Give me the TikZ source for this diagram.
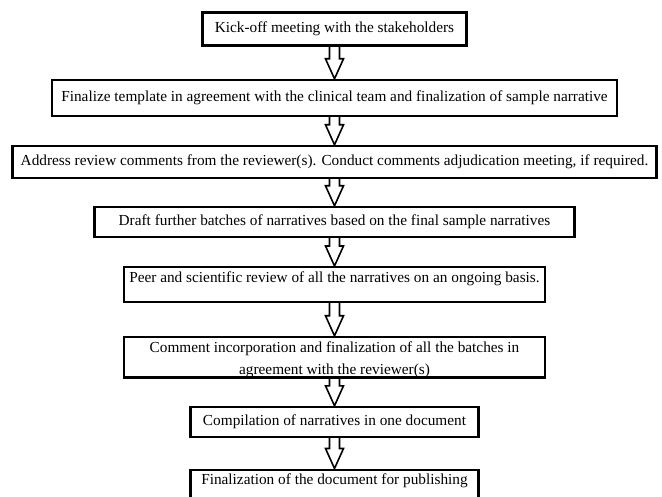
\documentclass[tikz,border=0pt]{standalone}
\usepackage{fontspec}
\setmainfont{Liberation Serif}
\usetikzlibrary{calc,backgrounds}

\tikzset{
  stepbox/.style={draw, line width=2.4pt, fill=white, inner sep=0pt, align=center,
    font=\fontsize{15.3}{22}\selectfont},
  flowarrow/.style={draw, line width=1.6pt, fill=white,
    to path={let \p1=(\tikztostart.south), \p2=(\tikztotarget.north) in
      (\x1-5pt,\y1+4pt) -- (\x1-5pt,\y2+20pt) -- (\x1-9pt,\y2+20pt) -- (\x1,\y2)
      -- (\x1+9pt,\y2+20pt) -- (\x1+5pt,\y2+20pt) -- (\x1+5pt,\y1+4pt) -- cycle}}
}

\begin{document}
\begin{tikzpicture}[x=1pt,y=-1pt]
\clip (0,0) rectangle (662,497);

\node[stepbox, minimum width=264, minimum height=33] (kickoff) at (334.5,29) {Kick-off meeting with the stakeholders};
\node[stepbox, minimum width=565, minimum height=36] (template) at (334.5,98) {Finalize template in agreement with the clinical team and finalization of sample narrative};
\node[stepbox, minimum width=644, minimum height=32] (review) at (334.5,162) {Address review comments from the reviewer(s). Conduct comments adjudication meeting, if required.};
\node[stepbox, minimum width=480, minimum height=30] (drafting) at (334.5,222) {Draft further batches of narratives based on the final sample narratives};
\node[stepbox, minimum width=421, inner ysep=4pt, text height=11pt, text depth=16pt, anchor=north] (peer) at (334.5,266) {Peer and scientific review of all the narratives on an ongoing basis.};
\node[stepbox, minimum width=421, minimum height=40.5] (incorporation) at (334.5,357.25) {\rule{0pt}{13pt}Comment incorporation and finalization of all the batches in\\\smash{agreement with the reviewer(s)}};
\node[stepbox, minimum width=288, minimum height=30] (compilation) at (334.5,422) {Compilation of narratives in one document};
\node[stepbox, minimum width=288, inner ysep=5pt, text height=10pt, text depth=25pt, anchor=north] (publishing) at (334.5,468.5) {Finalization of the document for publishing};

\begin{scope}[on background layer]
\draw[flowarrow] (kickoff) to (template);
\draw[flowarrow] (template) to (review);
\draw[flowarrow] (review) to (drafting);
\draw[flowarrow] (drafting) to (peer);
\draw[flowarrow] (peer) to (incorporation);
\draw[flowarrow] (incorporation) to (compilation);
\draw[flowarrow] (compilation) to (publishing);
\end{scope}

\end{tikzpicture}
\end{document}
